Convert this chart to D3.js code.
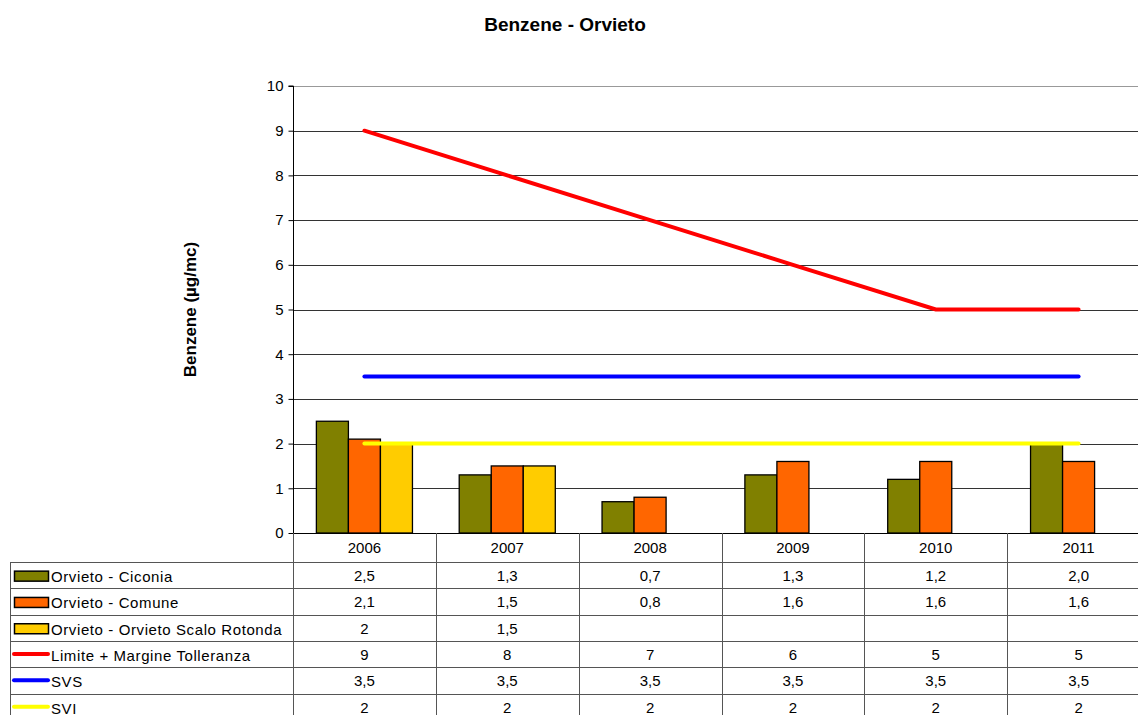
<!DOCTYPE html>
<html>
<head>
<meta charset="utf-8">
<script src="https://cdn.jsdelivr.net/npm/d3@7"></script>
<style>
  body { margin: 0; background: #fff; }
  svg { display: block; font-family: "Liberation Sans", Arial, sans-serif; }
</style>
</head>
<body>
<div id="chart"></div>
<script>
const years = ["2006", "2007", "2008", "2009", "2010", "2011"];

const ciconia = [2.5, 1.3, 0.7, 1.3, 1.2, 2.0];
const comune = [2.1, 1.5, 0.8, 1.6, 1.6, 1.6];
const scaloRotonda = [2, 1.5, null, null, null, null];
const limite = [9, 8, 7, 6, 5, 5];
const svs = [3.5, 3.5, 3.5, 3.5, 3.5, 3.5];
const svi = [2, 2, 2, 2, 2, 2];

const yTicks = [0, 1, 2, 3, 4, 5, 6, 7, 8, 9, 10];

// table text as shown in the reference
const ciconiaLabels = ["2,5", "1,3", "0,7", "1,3", "1,2", "2,0"];
const comuneLabels = ["2,1", "1,5", "0,8", "1,6", "1,6", "1,6"];
const scaloLabels = ["2", "1,5", "", "", "", ""];
const limiteLabels = ["9", "8", "7", "6", "5", "5"];
const svsLabels = ["3,5", "3,5", "3,5", "3,5", "3,5", "3,5"];
const sviLabels = ["2", "2", "2", "2", "2", "2"];

const barSeries = [
  { name: "Orvieto - Ciconia", values: ciconia, labels: ciconiaLabels, color: "#808000" },
  { name: "Orvieto - Comune", values: comune, labels: comuneLabels, color: "#ff6600" },
  { name: "Orvieto - Orvieto Scalo Rotonda", values: scaloRotonda, labels: scaloLabels, color: "#ffcc00" }
];
const lineSeries = [
  { name: "Limite + Margine Tolleranza", values: limite, labels: limiteLabels, color: "#ff0000" },
  { name: "SVS", values: svs, labels: svsLabels, color: "#0000ff" },
  { name: "SVI", values: svi, labels: sviLabels, color: "#ffff00" }
];

const width = 1138, height = 715;
const plot = { left: 293, right: 1150, top: 86, bottom: 533 };
const tableLeft = 10, headerBottom = 562, rowH = 26.3;

const svg = d3.select("#chart").append("svg")
  .attr("width", width).attr("height", height);

const x = d3.scaleBand().domain(years).range([plot.left, plot.right]);
const xs = d3.scaleBand().domain(d3.range(barSeries.length))
  .range([0, x.bandwidth()]).paddingOuter(0.73).paddingInner(0);
const y = d3.scaleLinear().domain([0, 10]).range([plot.bottom, plot.top]);

// title
svg.append("text")
  .attr("x", 565).attr("y", 31)
  .attr("text-anchor", "middle")
  .style("font-size", "19px").style("font-weight", "bold")
  .text("Benzene - Orvieto");

// y label
svg.append("text")
  .attr("transform", `translate(196,${(plot.top + plot.bottom) / 2}) rotate(-90)`)
  .attr("text-anchor", "middle")
  .style("font-size", "17px").style("font-weight", "bold")
  .text("Benzene (µg/mc)");

// gridlines
svg.append("g").selectAll("line")
  .data(yTicks.filter(d => d > 0))
  .join("line")
  .attr("x1", plot.left).attr("x2", plot.right)
  .attr("y1", d => Math.round(y(d)) + 0.5).attr("y2", d => Math.round(y(d)) + 0.5)
  .attr("stroke", d => d === 10 ? "#999" : "#333").attr("stroke-width", 1);

// y axis
const yAxis = svg.append("g")
  .attr("transform", `translate(${plot.left + 0.5},0)`)
  .call(d3.axisLeft(y).tickValues(yTicks).tickSize(5).tickPadding(5).tickFormat(d3.format("d")));
yAxis.selectAll("text").style("font-size", "15px").attr("fill", "#000");
yAxis.selectAll("line").attr("stroke", "#000");
yAxis.select(".domain").attr("stroke", "#000").attr("d", `M-5,${plot.top}H0V${plot.bottom}`);

// bars
barSeries.forEach((s, i) => {
  svg.append("g").selectAll("rect")
    .data(s.values.map((v, j) => ({ v, year: years[j] })).filter(d => d.v != null))
    .join("rect")
    .attr("x", d => x(d.year) + xs(i))
    .attr("width", xs.bandwidth())
    .attr("y", d => y(d.v))
    .attr("height", d => y(0) - y(d.v))
    .attr("fill", s.color)
    .attr("stroke", "#000").attr("stroke-width", 1.3);
});

// baseline
svg.append("line")
  .attr("x1", plot.left).attr("x2", plot.right)
  .attr("y1", plot.bottom + 0.5).attr("y2", plot.bottom + 0.5)
  .attr("stroke", "#000");

// lines
const line = d3.line()
  .x((d, j) => x(years[j]) + x.bandwidth() / 2)
  .y(d => y(d));
lineSeries.forEach(s => {
  svg.append("path")
    .datum(s.values)
    .attr("d", line)
    .attr("fill", "none")
    .attr("stroke", s.color)
    .attr("stroke-width", 4)
    .attr("stroke-linecap", "round");
});

// data table
const rows = barSeries.concat(lineSeries);
const tableBottom = headerBottom + rowH * rows.length;
const tg = svg.append("g");

// header labels
tg.selectAll("text.year")
  .data(years)
  .join("text")
  .attr("class", "year")
  .attr("x", d => x(d) + x.bandwidth() / 2)
  .attr("y", 553)
  .attr("text-anchor", "middle")
  .style("font-size", "15px")
  .text(d => d);

// horizontal lines
tg.selectAll("line.h")
  .data(d3.range(rows.length + 1))
  .join("line")
  .attr("class", "h")
  .attr("x1", tableLeft).attr("x2", plot.right)
  .attr("y1", i => Math.round(headerBottom + i * rowH) + 0.5)
  .attr("y2", i => Math.round(headerBottom + i * rowH) + 0.5)
  .attr("stroke", "#555");

// vertical lines
tg.selectAll("line.v")
  .data(years.slice(1))
  .join("line")
  .attr("class", "v")
  .attr("x1", d => Math.round(x(d)) + 0.5).attr("x2", d => Math.round(x(d)) + 0.5)
  .attr("y1", plot.bottom).attr("y2", tableBottom)
  .attr("stroke", "#555");
tg.append("line")
  .attr("x1", plot.left + 0.5).attr("x2", plot.left + 0.5)
  .attr("y1", plot.bottom).attr("y2", tableBottom)
  .attr("stroke", "#555");
tg.append("line")
  .attr("x1", tableLeft + 0.5).attr("x2", tableLeft + 0.5)
  .attr("y1", headerBottom).attr("y2", tableBottom)
  .attr("stroke", "#555");

rows.forEach((s, i) => {
  const top = headerBottom + i * rowH;
  const cy = top + rowH / 2;
  const isBar = i < barSeries.length;
  if (isBar) {
    tg.append("rect")
      .attr("x", 14.5).attr("y", cy - 4)
      .attr("width", 34).attr("height", 10)
      .attr("fill", s.color).attr("stroke", "#000").attr("stroke-width", 1.5);
  } else {
    tg.append("line")
      .attr("x1", 14).attr("x2", 48)
      .attr("y1", cy).attr("y2", cy)
      .attr("stroke", s.color).attr("stroke-width", 4).attr("stroke-linecap", "round");
  }
  tg.append("text")
    .attr("x", 51).attr("y", cy + 7)
    .style("font-size", "15px")
    .style("letter-spacing", "0.6px")
    .text(s.name);
  tg.selectAll(null)
    .data(s.labels)
    .join("text")
    .attr("x", (d, j) => x(years[j]) + x.bandwidth() / 2)
    .attr("y", cy + 6)
    .attr("text-anchor", "middle")
    .style("font-size", "15px")
    .text(d => d);
});
</script>
</body>
</html>
